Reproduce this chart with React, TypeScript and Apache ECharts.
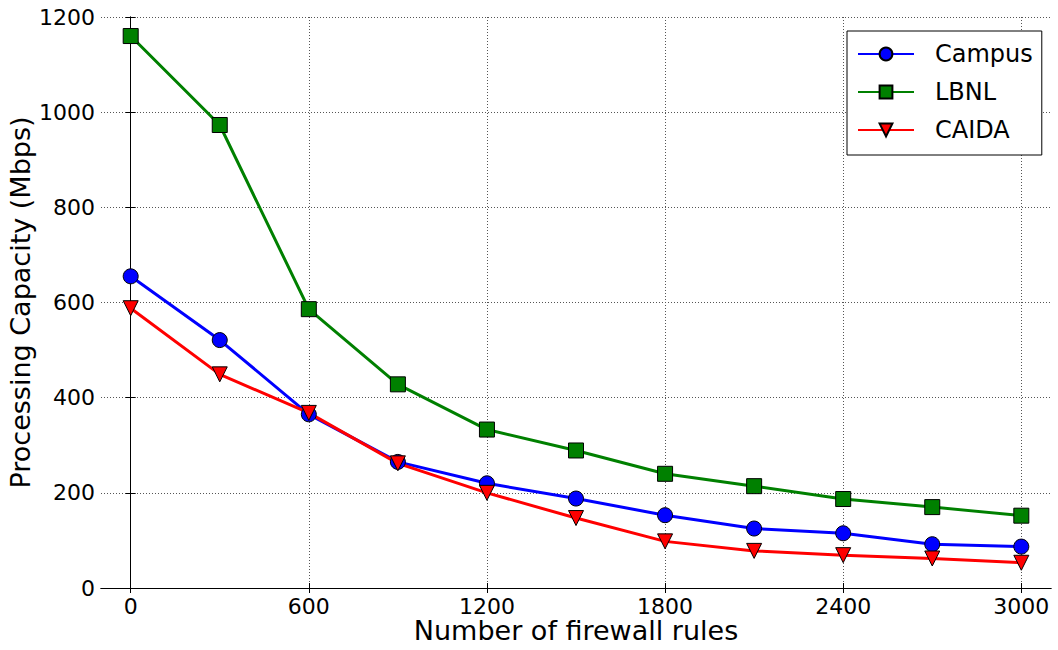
import React, { useEffect, useRef } from "react";
import * as echarts from "echarts";

const rules = [0, 300, 600, 900, 1200, 1500, 1800, 2100, 2400, 2700, 3000];
const campus = [655, 521, 365, 265, 220, 188, 153, 125, 115, 92, 87];
const lbnl = [1160, 973, 586, 428, 333, 289, 240, 214, 187, 170, 152];
const caida = [588, 449, 368, 262, 200, 147, 98, 78, 69, 62, 53];
const xTicks = [0, 600, 1200, 1800, 2400, 3000];

const FONT = "DejaVu Sans";

export default function App() {
  const ref = useRef<HTMLDivElement>(null);
  useEffect(() => {
    if (!ref.current) return;
    const chart = echarts.init(ref.current, null, { renderer: "svg" });
    const pair = (ys: number[]) => rules.map((x, i) => [x, ys[i]]);
    const gridLine = { show: true, lineStyle: { color: "#555", type: [1, 2], width: 1 } };
    const plain = (v: number) => String(v);
    const mk = (name: string, data: number[], color: string, symbol: string, rotate = 0) => ({
      name,
      type: "line",
      data: pair(data),
      symbol,
      symbolSize: 15,
      symbolRotate: rotate,
      lineStyle: { color, width: 3 },
      itemStyle: { color, borderColor: "#000", borderWidth: 1 },
      emphasis: { disabled: true },
    });
    chart.setOption({
      animation: false,
      backgroundColor: "#fff",
      grid: { left: 101, right: 7, top: 17, bottom: 62, containLabel: false, outerBoundsMode: "none" },
      legend: {
        orient: "vertical",
        left: 847,
        top: 31,
        padding: [11, 9, 13, 10],
        itemWidth: 56,
        itemHeight: 16,
        itemGap: 14,
        backgroundColor: "#fff",
        borderColor: "#000",
        borderWidth: 1,
        borderRadius: 0,
        data: ["Campus", "LBNL", "CAIDA"],
        formatter: (n: string) => "{a|" + n + "}",
        textStyle: {
          rich: { a: { fontFamily: FONT, fontSize: 24, color: "#000", padding: [0, 0, 0, 16], lineHeight: 25 } },
        },
      },
      xAxis: [
        {
          type: "value",
          min: -100,
          max: 3100,
          name: "Number of firewall rules",
          nameLocation: "middle",
          nameGap: 29,
          nameMoveOverlap: false,
          nameTextStyle: { fontFamily: FONT, fontSize: 27, color: "#000", lineHeight: 27 },
          axisLine: { show: true, lineStyle: { color: "#000", width: 1 } },
          axisTick: { show: true, inside: true, length: 5, customValues: xTicks, lineStyle: { color: "#000" } },
          axisLabel: {
            customValues: xTicks,
            formatter: plain,
            fontFamily: FONT,
            fontSize: 22,
            lineHeight: 22,
            color: "#000",
            margin: 7,
          },
          splitLine: gridLine,
        },
        {
          type: "value",
          position: "top",
          min: -100,
          max: 3100,
          axisLine: { show: true, lineStyle: { color: "#000", width: 1 } },
          axisTick: { show: true, inside: true, length: 5, customValues: xTicks, lineStyle: { color: "#000" } },
          axisLabel: { show: false, customValues: xTicks },
          splitLine: { show: false },
        },
      ],
      yAxis: [
        {
          type: "value",
          min: 0,
          max: 1200,
          interval: 200,
          name: "Processing Capacity (Mbps)",
          nameLocation: "middle",
          nameGap: 67,
          nameMoveOverlap: false,
          nameTextStyle: { fontFamily: FONT, fontSize: 27, color: "#000", lineHeight: 28 },
          axisLine: { show: true, lineStyle: { color: "#000", width: 1 } },
          axisTick: { show: true, inside: true, length: 5, lineStyle: { color: "#000" } },
          axisLabel: { formatter: plain, fontFamily: FONT, fontSize: 22, color: "#000", margin: 6 },
          splitLine: gridLine,
        },
        {
          type: "value",
          position: "right",
          min: 0,
          max: 1200,
          interval: 200,
          axisLine: { show: true, lineStyle: { color: "#000", width: 1 } },
          axisTick: { show: true, inside: true, length: 5, lineStyle: { color: "#000" } },
          axisLabel: { show: false },
          splitLine: { show: false },
        },
      ],
      series: [
        mk("Campus", campus, "#0000ff", "circle"),
        mk("LBNL", lbnl, "#008000", "rect"),
        mk("CAIDA", caida, "#ff0000", "triangle", 180),
      ],
    });
    return () => chart.dispose();
  }, []);
  return (
    <div
      ref={ref}
      style={{ position: "fixed", left: 0, top: 0, width: 1058, height: 650, background: "#fff" }}
    />
  );
}
